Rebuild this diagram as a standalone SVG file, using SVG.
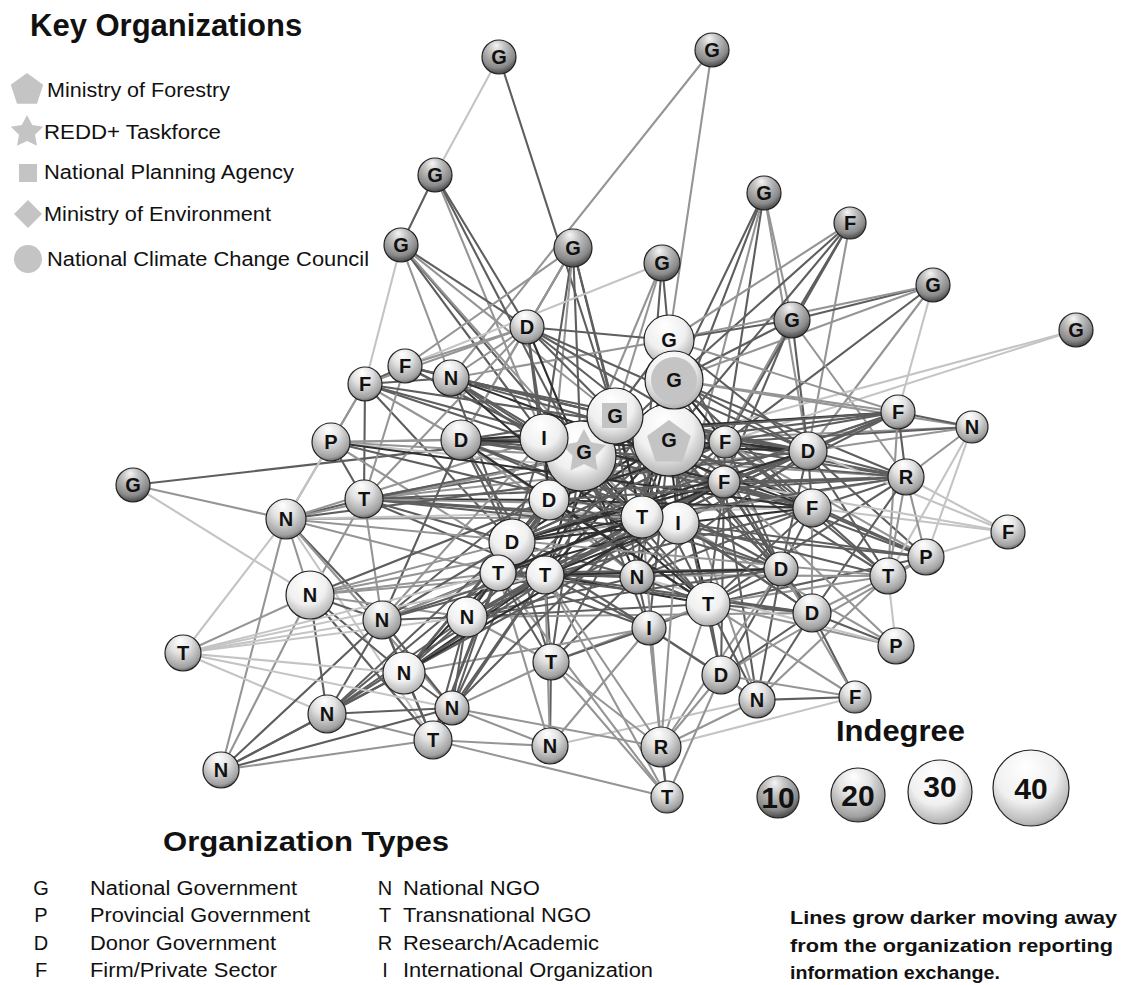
<svg xmlns="http://www.w3.org/2000/svg" width="1125" height="985" viewBox="0 0 1125 985">
<style>
text{font-family:"Liberation Sans",Arial,sans-serif;fill:#111}
.t1{font-size:31px;font-weight:bold}
.t2{font-size:28px;font-weight:bold}
.lg{font-size:20px}
.nb{font-size:19px;font-weight:bold}
.node text{font-size:20px;font-weight:bold;text-anchor:middle}
.node circle{stroke:#222;stroke-width:1.2}
.bd{fill:url(#gd)}.bm{fill:url(#gm)}.bw{fill:url(#gw)}
.key{fill:#c4c4c4}
#edges path{fill:none;stroke-width:2.1;stroke-linecap:round}
#edges .a{stroke:#c4c4c4}#edges .b{stroke:#959595}#edges .c{stroke:#5e5e5e}#edges .d{stroke:#303030}
.ind text{font-size:30px;font-weight:bold;text-anchor:middle}
.ind circle{stroke:#222;stroke-width:1.2}
</style>
<defs>
<radialGradient id="gd" cx="0.45" cy="0.32" r="0.72" fx="0.42" fy="0.15"><stop offset="0" stop-color="#f6f6f6"/><stop offset="0.3" stop-color="#c6c6c6"/><stop offset="0.75" stop-color="#8a8a8a"/><stop offset="1" stop-color="#383838"/></radialGradient>
<radialGradient id="gm" cx="0.45" cy="0.35" r="0.72" fx="0.42" fy="0.15"><stop offset="0" stop-color="#ffffff"/><stop offset="0.4" stop-color="#e2e2e2"/><stop offset="0.82" stop-color="#a0a0a0"/><stop offset="1" stop-color="#404040"/></radialGradient>
<radialGradient id="gw" cx="0.45" cy="0.38" r="0.72" fx="0.42" fy="0.2"><stop offset="0" stop-color="#ffffff"/><stop offset="0.55" stop-color="#f0f0f0"/><stop offset="0.86" stop-color="#b6b6b6"/><stop offset="1" stop-color="#505050"/></radialGradient>
</defs>
<rect width="1125" height="985" fill="#fff"/>

<g id="key-organizations">
<text class="t1" x="30" y="36">Key Organizations</text>
<polygon class="key" points="27,73 43.2,84.7 37,103.8 17,103.8 10.8,84.7"/>
<text class="lg" x="47" y="97" textLength="183" lengthAdjust="spacingAndGlyphs">Ministry of Forestry</text>
<polygon class="key" points="27,115 32.2,125 43.2,126.7 35,134.8 37,145.8 27,141 17,145.8 19,134.8 10.8,126.7 21.8,125"/>
<text class="lg" x="44" y="139" textLength="177" lengthAdjust="spacingAndGlyphs">REDD+ Taskforce</text>
<rect class="key" x="19" y="164" width="18" height="18"/>
<text class="lg" x="44" y="179" textLength="250" lengthAdjust="spacingAndGlyphs">National Planning Agency</text>
<polygon class="key" points="28,200 42,214 28,228 14,214"/>
<text class="lg" x="44" y="221" textLength="227" lengthAdjust="spacingAndGlyphs">Ministry of Environment</text>
<circle class="key" cx="28" cy="259" r="14"/>
<text class="lg" x="47" y="266" textLength="322" lengthAdjust="spacingAndGlyphs">National Climate Change Council</text>
</g>

<g id="edges">
<path class="a" d="M499 57L435 175"/><path class="c" d="M499 57L615 416"/><path class="b" d="M712 50L451 378"/><path class="b" d="M712 50L669 340"/>
<path class="c" d="M435 175L401 245"/><path class="c" d="M435 175L527 327"/><path class="c" d="M435 175L581 456"/><path class="b" d="M435 175L544 438"/>
<path class="c" d="M401 245L527 327"/><path class="b" d="M401 245L615 416"/><path class="c" d="M401 245L581 456"/><path class="a" d="M401 245L365 384"/><path class="c" d="M401 245L544 438"/><path class="b" d="M401 245L451 378"/><path class="b" d="M401 245L642 517"/>
<path class="c" d="M573 248L527 327"/><path class="c" d="M573 248L581 456"/><path class="c" d="M573 248L544 438"/><path class="c" d="M573 248L615 416"/><path class="b" d="M573 248L405 366"/><path class="b" d="M573 248L461 440"/><path class="c" d="M573 248L642 517"/><path class="b" d="M573 248L549 500"/>
<path class="c" d="M662 263L669 340"/><path class="b" d="M662 263L581 456"/><path class="a" d="M662 263L405 366"/><path class="b" d="M662 263L615 416"/><path class="c" d="M662 263L642 517"/>
<path class="c" d="M764 193L674 380"/><path class="c" d="M764 193L725 442"/><path class="b" d="M764 193L792 320"/><path class="c" d="M764 193L669 440"/><path class="b" d="M764 193L808 451"/><path class="b" d="M764 193L678 523"/>
<path class="b" d="M850 223L669 340"/><path class="c" d="M850 223L674 380"/><path class="c" d="M850 223L792 320"/><path class="c" d="M850 223L725 442"/><path class="c" d="M850 223L669 440"/><path class="b" d="M850 223L808 451"/>
<path class="c" d="M933 285L792 320"/><path class="b" d="M933 285L669 340"/><path class="c" d="M933 285L725 442"/><path class="b" d="M933 285L674 380"/><path class="b" d="M933 285L808 451"/><path class="a" d="M933 285L898 412"/>
<path class="c" d="M792 320L669 340"/><path class="c" d="M792 320L674 380"/><path class="c" d="M792 320L725 442"/><path class="c" d="M792 320L808 451"/><path class="b" d="M792 320L678 523"/><path class="b" d="M792 320L906 477"/><path class="c" d="M792 320L724 482"/>
<path class="a" d="M1076 330L669 440"/><path class="a" d="M1076 330L725 442"/>
<path class="c" d="M133 485L544 438"/><path class="b" d="M133 485L286 519"/><path class="a" d="M133 485L310 595"/>
<path class="c" d="M365 384L405 366"/><path class="c" d="M365 384L451 378"/><path class="b" d="M365 384L331 442"/><path class="c" d="M365 384L364 499"/><path class="b" d="M365 384L461 440"/><path class="b" d="M365 384L286 519"/><path class="c" d="M365 384L581 456"/><path class="c" d="M365 384L512 542"/>
<path class="c" d="M405 366L451 378"/><path class="c" d="M405 366L581 456"/><path class="c" d="M405 366L544 438"/><path class="b" d="M405 366L527 327"/><path class="b" d="M405 366L364 499"/><path class="c" d="M405 366L615 416"/>
<path class="c" d="M451 378L581 456"/><path class="c" d="M451 378L544 438"/><path class="c" d="M451 378L615 416"/><path class="c" d="M451 378L512 542"/><path class="b" d="M451 378L669 340"/><path class="c" d="M451 378L669 440"/><path class="c" d="M451 378L808 451"/>
<path class="d" d="M527 327L581 456"/><path class="c" d="M527 327L669 340"/><path class="c" d="M527 327L615 416"/><path class="c" d="M527 327L544 438"/><path class="c" d="M527 327L725 442"/><path class="b" d="M527 327L461 440"/><path class="b" d="M527 327L451 378"/><path class="c" d="M527 327L669 440"/><path class="c" d="M527 327L549 500"/><path class="b" d="M527 327L365 384"/><path class="b" d="M527 327L364 499"/>
<path class="b" d="M331 442L461 440"/><path class="c" d="M331 442L364 499"/><path class="b" d="M331 442L544 438"/><path class="a" d="M331 442L286 519"/><path class="b" d="M331 442L581 456"/><path class="b" d="M331 442L545 575"/><path class="a" d="M331 442L724 482"/>
<path class="c" d="M364 499L286 519"/><path class="c" d="M364 499L581 456"/><path class="d" d="M364 499L549 500"/><path class="c" d="M364 499L512 542"/><path class="c" d="M364 499L545 575"/><path class="c" d="M364 499L678 523"/><path class="c" d="M364 499L669 440"/><path class="c" d="M364 499L642 517"/><path class="b" d="M364 499L808 451"/><path class="b" d="M364 499L812 508"/><path class="b" d="M364 499L310 595"/><path class="b" d="M364 499L382 620"/><path class="c" d="M364 499L725 442"/>
<path class="c" d="M286 519L382 620"/><path class="b" d="M286 519L581 456"/><path class="b" d="M286 519L642 517"/><path class="b" d="M286 519L310 595"/><path class="b" d="M286 519L544 438"/><path class="b" d="M286 519L498 573"/><path class="b" d="M286 519L221 770"/><path class="a" d="M286 519L812 508"/><path class="b" d="M286 519L452 708"/><path class="a" d="M286 519L433 740"/>
<path class="c" d="M461 440L581 456"/><path class="c" d="M461 440L615 416"/><path class="c" d="M461 440L669 440"/><path class="c" d="M461 440L549 500"/><path class="c" d="M461 440L545 575"/><path class="c" d="M461 440L678 523"/><path class="c" d="M461 440L512 542"/><path class="c" d="M461 440L642 517"/><path class="c" d="M461 440L724 482"/><path class="b" d="M461 440L637 577"/><path class="c" d="M461 440L382 620"/>
<path class="d" d="M544 438L549 500"/><path class="c" d="M544 438L512 542"/><path class="c" d="M544 438L642 517"/><path class="c" d="M544 438L669 440"/><path class="c" d="M544 438L812 508"/><path class="b" d="M544 438L781 569"/>
<path class="d" d="M581 456L549 500"/><path class="d" d="M581 456L512 542"/><path class="d" d="M581 456L498 573"/><path class="d" d="M581 456L545 575"/><path class="d" d="M581 456L642 517"/><path class="d" d="M581 456L637 577"/><path class="c" d="M581 456L708 604"/><path class="c" d="M581 456L649 628"/><path class="c" d="M581 456L781 569"/><path class="c" d="M581 456L812 613"/><path class="c" d="M581 456L467 617"/><path class="c" d="M581 456L382 620"/><path class="c" d="M581 456L551 662"/><path class="c" d="M581 456L812 508"/><path class="b" d="M581 456L906 477"/>
<path class="d" d="M669 440L549 500"/><path class="d" d="M669 440L512 542"/><path class="d" d="M669 440L545 575"/><path class="d" d="M669 440L642 517"/><path class="d" d="M669 440L678 523"/><path class="d" d="M669 440L637 577"/><path class="d" d="M669 440L708 604"/><path class="d" d="M669 440L808 451"/><path class="d" d="M669 440L812 508"/><path class="c" d="M669 440L781 569"/><path class="c" d="M669 440L812 613"/><path class="c" d="M669 440L888 576"/><path class="c" d="M669 440L906 477"/><path class="c" d="M669 440L898 412"/><path class="b" d="M669 440L972 427"/><path class="c" d="M669 440L926 557"/><path class="c" d="M669 440L649 628"/><path class="c" d="M669 440L467 617"/><path class="b" d="M669 440L757 700"/><path class="c" d="M669 440L721 675"/><path class="c" d="M669 440L551 662"/>
<path class="d" d="M615 416L549 500"/><path class="c" d="M615 416L512 542"/><path class="d" d="M615 416L545 575"/><path class="d" d="M615 416L642 517"/><path class="c" d="M615 416L678 523"/><path class="c" d="M615 416L724 482"/><path class="c" d="M615 416L808 451"/><path class="c" d="M615 416L637 577"/><path class="c" d="M615 416L708 604"/><path class="c" d="M615 416L781 569"/><path class="b" d="M615 416L467 617"/><path class="c" d="M615 416L498 573"/>
<path class="d" d="M674 380L725 442"/><path class="c" d="M674 380L808 451"/><path class="d" d="M674 380L642 517"/><path class="c" d="M674 380L678 523"/><path class="c" d="M674 380L812 508"/><path class="c" d="M674 380L906 477"/><path class="b" d="M674 380L898 412"/><path class="c" d="M674 380L549 500"/><path class="c" d="M674 380L545 575"/><path class="b" d="M674 380L972 427"/><path class="c" d="M674 380L781 569"/>
<path class="c" d="M669 340L725 442"/><path class="c" d="M669 340L808 451"/><path class="b" d="M669 340L898 412"/><path class="c" d="M669 340L642 517"/><path class="c" d="M669 340L549 500"/>
<path class="d" d="M725 442L808 451"/><path class="c" d="M725 442L724 482"/><path class="c" d="M725 442L898 412"/><path class="c" d="M725 442L906 477"/><path class="c" d="M725 442L972 427"/><path class="c" d="M725 442L812 508"/><path class="b" d="M725 442L926 557"/><path class="c" d="M725 442L888 576"/><path class="c" d="M725 442L781 569"/><path class="c" d="M725 442L642 517"/><path class="c" d="M725 442L512 542"/>
<path class="c" d="M724 482L808 451"/><path class="c" d="M724 482L812 508"/><path class="d" d="M724 482L781 569"/><path class="c" d="M724 482L708 604"/><path class="c" d="M724 482L906 477"/><path class="c" d="M724 482L926 557"/><path class="d" d="M724 482L642 517"/><path class="c" d="M724 482L545 575"/><path class="c" d="M724 482L812 613"/><path class="c" d="M724 482L721 675"/><path class="c" d="M724 482L757 700"/><path class="c" d="M724 482L512 542"/>
<path class="c" d="M808 451L898 412"/><path class="c" d="M808 451L906 477"/><path class="b" d="M808 451L972 427"/><path class="c" d="M808 451L812 508"/><path class="c" d="M808 451L926 557"/><path class="c" d="M808 451L888 576"/><path class="c" d="M808 451L781 569"/><path class="c" d="M808 451L642 517"/><path class="c" d="M808 451L545 575"/>
<path class="c" d="M812 508L906 477"/><path class="a" d="M812 508L1008 532"/><path class="c" d="M812 508L926 557"/><path class="c" d="M812 508L888 576"/><path class="c" d="M812 508L781 569"/><path class="b" d="M812 508L812 613"/><path class="c" d="M812 508L708 604"/><path class="c" d="M812 508L545 575"/><path class="c" d="M812 508L637 577"/>
<path class="c" d="M898 412L972 427"/><path class="c" d="M898 412L906 477"/><path class="b" d="M898 412L888 576"/><path class="c" d="M898 412L678 523"/><path class="c" d="M898 412L642 517"/><path class="b" d="M898 412L512 542"/>
<path class="b" d="M972 427L906 477"/><path class="a" d="M972 427L926 557"/><path class="a" d="M972 427L888 576"/>
<path class="b" d="M906 477L888 576"/><path class="b" d="M906 477L926 557"/><path class="c" d="M906 477L812 613"/><path class="a" d="M906 477L1008 532"/><path class="c" d="M906 477L708 604"/><path class="b" d="M906 477L512 542"/>
<path class="a" d="M1008 532L926 557"/><path class="a" d="M1008 532L808 451"/><path class="a" d="M1008 532L724 482"/>
<path class="b" d="M926 557L888 576"/><path class="c" d="M926 557L708 604"/><path class="b" d="M926 557L721 675"/>
<path class="a" d="M888 576L896 646"/><path class="b" d="M888 576L812 613"/><path class="b" d="M888 576L757 700"/><path class="b" d="M888 576L708 604"/><path class="b" d="M888 576L545 575"/>
<path class="c" d="M781 569L708 604"/><path class="c" d="M781 569L812 613"/><path class="c" d="M781 569L637 577"/><path class="c" d="M781 569L545 575"/><path class="c" d="M781 569L721 675"/><path class="c" d="M781 569L757 700"/><path class="b" d="M781 569L661 747"/>
<path class="c" d="M812 613L708 604"/><path class="c" d="M812 613L896 646"/><path class="c" d="M812 613L855 697"/><path class="c" d="M812 613L757 700"/><path class="c" d="M812 613L721 675"/><path class="c" d="M812 613L545 575"/><path class="b" d="M812 613L467 617"/>
<path class="b" d="M896 646L708 604"/><path class="b" d="M896 646L678 523"/><path class="a" d="M896 646L637 577"/><path class="b" d="M896 646L724 482"/>
<path class="c" d="M708 604L721 675"/><path class="c" d="M708 604L757 700"/><path class="c" d="M708 604L649 628"/><path class="c" d="M708 604L637 577"/><path class="d" d="M708 604L545 575"/><path class="b" d="M708 604L661 747"/><path class="b" d="M708 604L551 662"/><path class="c" d="M708 604L467 617"/>
<path class="c" d="M855 697L757 700"/><path class="b" d="M855 697L721 675"/><path class="a" d="M855 697L661 747"/><path class="b" d="M855 697L781 569"/><path class="b" d="M855 697L708 604"/>
<path class="c" d="M757 700L721 675"/><path class="b" d="M757 700L649 628"/><path class="b" d="M757 700L661 747"/><path class="a" d="M757 700L550 746"/>
<path class="c" d="M721 675L649 628"/><path class="b" d="M721 675L661 747"/><path class="b" d="M721 675L667 797"/>
<path class="d" d="M637 577L545 575"/><path class="c" d="M637 577L649 628"/><path class="c" d="M637 577L642 517"/><path class="c" d="M637 577L678 523"/><path class="c" d="M637 577L512 542"/><path class="c" d="M637 577L498 573"/><path class="c" d="M637 577L551 662"/><path class="c" d="M637 577L467 617"/><path class="c" d="M637 577L549 500"/>
<path class="c" d="M649 628L545 575"/><path class="c" d="M649 628L551 662"/><path class="b" d="M649 628L661 747"/><path class="b" d="M649 628L667 797"/><path class="b" d="M649 628L550 746"/><path class="c" d="M649 628L512 542"/><path class="c" d="M649 628L498 573"/><path class="b" d="M649 628L404 673"/>
<path class="c" d="M551 662L545 575"/><path class="c" d="M551 662L498 573"/><path class="c" d="M551 662L550 746"/><path class="b" d="M551 662L452 708"/><path class="b" d="M551 662L467 617"/><path class="b" d="M551 662L661 747"/><path class="b" d="M551 662L667 797"/><path class="c" d="M551 662L512 542"/>
<path class="b" d="M550 746L545 575"/><path class="b" d="M550 746L498 573"/>
<path class="c" d="M661 747L667 797"/><path class="b" d="M661 747L545 575"/><path class="b" d="M661 747L678 523"/><path class="b" d="M661 747L642 517"/>
<path class="b" d="M667 797L433 740"/><path class="b" d="M667 797L545 575"/><path class="b" d="M667 797L498 573"/>
<path class="c" d="M310 595L382 620"/><path class="c" d="M310 595L404 673"/><path class="c" d="M310 595L327 714"/><path class="c" d="M310 595L433 740"/><path class="b" d="M310 595L512 542"/><path class="b" d="M310 595L498 573"/><path class="b" d="M310 595L545 575"/><path class="b" d="M310 595L467 617"/><path class="b" d="M310 595L678 523"/><path class="c" d="M310 595L549 500"/>
<path class="c" d="M382 620L467 617"/><path class="c" d="M382 620L404 673"/><path class="c" d="M382 620L452 708"/><path class="c" d="M382 620L433 740"/><path class="c" d="M382 620L327 714"/><path class="c" d="M382 620L498 573"/><path class="c" d="M382 620L545 575"/><path class="c" d="M382 620L512 542"/><path class="b" d="M382 620L544 438"/><path class="b" d="M382 620L642 517"/>
<path class="d" d="M467 617L498 573"/><path class="c" d="M467 617L545 575"/><path class="c" d="M467 617L404 673"/><path class="c" d="M467 617L452 708"/><path class="c" d="M467 617L327 714"/><path class="c" d="M467 617L433 740"/><path class="c" d="M467 617L512 542"/><path class="c" d="M467 617L678 523"/><path class="c" d="M467 617L642 517"/>
<path class="c" d="M404 673L452 708"/><path class="c" d="M404 673L327 714"/><path class="c" d="M404 673L433 740"/><path class="c" d="M404 673L221 770"/><path class="d" d="M404 673L498 573"/><path class="d" d="M404 673L545 575"/><path class="c" d="M404 673L512 542"/><path class="c" d="M404 673L642 517"/><path class="c" d="M404 673L549 500"/><path class="c" d="M404 673L678 523"/>
<path class="c" d="M452 708L433 740"/><path class="c" d="M452 708L327 714"/><path class="c" d="M452 708L498 573"/><path class="c" d="M452 708L545 575"/><path class="c" d="M452 708L642 517"/><path class="c" d="M452 708L549 500"/><path class="b" d="M452 708L550 746"/><path class="b" d="M452 708L661 747"/>
<path class="c" d="M327 714L221 770"/><path class="b" d="M327 714L433 740"/><path class="c" d="M327 714L498 573"/><path class="c" d="M327 714L545 575"/><path class="c" d="M327 714L512 542"/><path class="a" d="M327 714L183 653"/>
<path class="b" d="M221 770L433 740"/><path class="b" d="M221 770L310 595"/><path class="c" d="M221 770L452 708"/><path class="c" d="M221 770L382 620"/>
<path class="b" d="M183 653L310 595"/><path class="a" d="M183 653L382 620"/><path class="a" d="M183 653L467 617"/><path class="a" d="M183 653L404 673"/><path class="a" d="M183 653L286 519"/><path class="a" d="M183 653L498 573"/><path class="a" d="M183 653L452 708"/><path class="a" d="M183 653L545 575"/>
<path class="c" d="M433 740L498 573"/><path class="c" d="M433 740L545 575"/><path class="b" d="M433 740L550 746"/><path class="c" d="M433 740L512 542"/>
<path class="d" d="M331 442L812 508"/><path class="c" d="M364 499L906 477"/><path class="c" d="M286 519L808 451"/><path class="d" d="M461 440L898 412"/><path class="c" d="M461 440L906 477"/><path class="d" d="M451 378L812 508"/><path class="c" d="M365 384L724 482"/><path class="d" d="M451 378L708 604"/><path class="d" d="M461 440L708 604"/><path class="d" d="M512 542L808 451"/><path class="d" d="M512 542L812 508"/><path class="d" d="M498 573L724 482"/><path class="c" d="M545 575L808 451"/><path class="d" d="M498 573L678 523"/><path class="d" d="M549 500L708 604"/><path class="c" d="M549 500L781 569"/><path class="d" d="M549 500L812 508"/><path class="d" d="M549 500L725 442"/><path class="c" d="M364 499L926 557"/><path class="b" d="M286 519L888 576"/><path class="d" d="M512 542L642 517"/><path class="d" d="M498 573L642 517"/><path class="c" d="M512 542L725 442"/><path class="d" d="M545 575L678 523"/><path class="c" d="M527 327L808 451"/><path class="c" d="M405 366L725 442"/><path class="c" d="M365 384L808 451"/><path class="d" d="M544 438L724 482"/><path class="c" d="M544 438L708 604"/><path class="c" d="M544 438L898 412"/><path class="d" d="M512 542L724 482"/><path class="c" d="M498 573L781 569"/><path class="c" d="M498 573L812 613"/><path class="d" d="M545 575L781 569"/><path class="c" d="M467 617L781 569"/><path class="c" d="M467 617L724 482"/><path class="d" d="M404 673L724 482"/><path class="c" d="M382 620L678 523"/><path class="c" d="M331 442L642 517"/><path class="c" d="M451 378L642 517"/><path class="d" d="M461 440L808 451"/><path class="c" d="M549 500L906 477"/><path class="c" d="M512 542L898 412"/><path class="c" d="M637 577L808 451"/><path class="c" d="M642 517L906 477"/><path class="c" d="M678 523L926 557"/><path class="c" d="M678 523L888 576"/><path class="c" d="M642 517L781 569"/><path class="c" d="M678 523L812 613"/>
</g>

<g id="nodes">
<g id="n-g1" class="node"><circle class="bd" cx="499" cy="57" r="17"/><text x="499" y="64">G</text></g>
<g id="n-g2" class="node"><circle class="bd" cx="712" cy="50" r="17"/><text x="712" y="57">G</text></g>
<g id="n-g3" class="node"><circle class="bd" cx="435" cy="175" r="17"/><text x="435" y="182">G</text></g>
<g id="n-g4" class="node"><circle class="bd" cx="401" cy="245" r="17"/><text x="401" y="252">G</text></g>
<g id="n-g5" class="node"><circle class="bd" cx="573" cy="248" r="19"/><text x="573" y="255">G</text></g>
<g id="n-g6" class="node"><circle class="bd" cx="662" cy="263" r="18"/><text x="662" y="270">G</text></g>
<g id="n-g7" class="node"><circle class="bd" cx="764" cy="193" r="17"/><text x="764" y="200">G</text></g>
<g id="n-f1" class="node"><circle class="bd" cx="850" cy="223" r="16"/><text x="850" y="230">F</text></g>
<g id="n-g8" class="node"><circle class="bd" cx="933" cy="285" r="17"/><text x="933" y="292">G</text></g>
<g id="n-g9" class="node"><circle class="bd" cx="792" cy="320" r="18"/><text x="792" y="327">G</text></g>
<g id="n-g10" class="node"><circle class="bd" cx="1076" cy="330" r="17"/><text x="1076" y="337">G</text></g>
<g id="n-g11" class="node"><circle class="bd" cx="133" cy="485" r="17"/><text x="133" y="492">G</text></g>
<g id="n-d1" class="node"><circle class="bm" cx="527" cy="327" r="17"/><text x="527" y="334">D</text></g>
<g id="n-f2" class="node"><circle class="bm" cx="365" cy="384" r="17"/><text x="365" y="391">F</text></g>
<g id="n-f3" class="node"><circle class="bm" cx="405" cy="366" r="17"/><text x="405" y="373">F</text></g>
<g id="n-n1" class="node"><circle class="bm" cx="451" cy="378" r="18"/><text x="451" y="385">N</text></g>
<g id="n-p1" class="node"><circle class="bm" cx="331" cy="442" r="19"/><text x="331" y="449">P</text></g>
<g id="n-d2" class="node"><circle class="bm" cx="461" cy="440" r="20"/><text x="461" y="447">D</text></g>
<g id="n-t1" class="node"><circle class="bm" cx="364" cy="499" r="19"/><text x="364" y="506">T</text></g>
<g id="n-n2" class="node"><circle class="bm" cx="286" cy="519" r="20"/><text x="286" y="526">N</text></g>
<g id="n-d3" class="node"><circle class="bw" cx="549" cy="500" r="20"/><text x="549" y="507">D</text></g>
<g id="n-d4" class="node"><circle class="bw" cx="512" cy="542" r="23"/><text x="512" y="549">D</text></g>
<g id="n-t2" class="node"><circle class="bw" cx="498" cy="573" r="18"/><text x="498" y="580">T</text></g>
<g id="n-t3" class="node"><circle class="bw" cx="545" cy="575" r="19"/><text x="545" y="582">T</text></g>
<g id="n-i2" class="node"><circle class="bw" cx="678" cy="523" r="21"/><text x="678" y="530">I</text></g>
<g id="n-t4" class="node"><circle class="bw" cx="642" cy="517" r="21"/><text x="642" y="524">T</text></g>
<g id="n-f4" class="node"><circle class="bm" cx="725" cy="442" r="16"/><text x="725" y="449">F</text></g>
<g id="n-f5" class="node"><circle class="bm" cx="724" cy="482" r="16"/><text x="724" y="489">F</text></g>
<g id="n-d5" class="node"><circle class="bm" cx="808" cy="451" r="19"/><text x="808" y="458">D</text></g>
<g id="n-f6" class="node"><circle class="bm" cx="812" cy="508" r="19"/><text x="812" y="515">F</text></g>
<g id="n-f7" class="node"><circle class="bm" cx="898" cy="412" r="17"/><text x="898" y="419">F</text></g>
<g id="n-n3" class="node"><circle class="bm" cx="972" cy="427" r="16"/><text x="972" y="434">N</text></g>
<g id="n-r1" class="node"><circle class="bm" cx="906" cy="477" r="18"/><text x="906" y="484">R</text></g>
<g id="n-f8" class="node"><circle class="bm" cx="1008" cy="532" r="17"/><text x="1008" y="539">F</text></g>
<g id="n-p2" class="node"><circle class="bm" cx="926" cy="557" r="18"/><text x="926" y="564">P</text></g>
<g id="n-t5" class="node"><circle class="bm" cx="888" cy="576" r="18"/><text x="888" y="583">T</text></g>
<g id="n-d6" class="node"><circle class="bm" cx="781" cy="569" r="17"/><text x="781" y="576">D</text></g>
<g id="n-d7" class="node"><circle class="bm" cx="812" cy="613" r="19"/><text x="812" y="620">D</text></g>
<g id="n-p3" class="node"><circle class="bm" cx="896" cy="646" r="18"/><text x="896" y="653">P</text></g>
<g id="n-t6" class="node"><circle class="bw" cx="708" cy="604" r="22"/><text x="708" y="611">T</text></g>
<g id="n-n4" class="node"><circle class="bm" cx="637" cy="577" r="17"/><text x="637" y="584">N</text></g>
<g id="n-i3" class="node"><circle class="bm" cx="649" cy="628" r="17"/><text x="649" y="635">I</text></g>
<g id="n-t7" class="node"><circle class="bm" cx="551" cy="662" r="18"/><text x="551" y="669">T</text></g>
<g id="n-d8" class="node"><circle class="bm" cx="721" cy="675" r="19"/><text x="721" y="682">D</text></g>
<g id="n-n5" class="node"><circle class="bm" cx="757" cy="700" r="18"/><text x="757" y="707">N</text></g>
<g id="n-f9" class="node"><circle class="bm" cx="855" cy="697" r="16"/><text x="855" y="704">F</text></g>
<g id="n-n6" class="node"><circle class="bw" cx="310" cy="595" r="24"/><text x="310" y="602">N</text></g>
<g id="n-n7" class="node"><circle class="bm" cx="382" cy="620" r="19"/><text x="382" y="627">N</text></g>
<g id="n-n8" class="node"><circle class="bw" cx="467" cy="617" r="20"/><text x="467" y="624">N</text></g>
<g id="n-n9" class="node"><circle class="bw" cx="404" cy="673" r="21"/><text x="404" y="680">N</text></g>
<g id="n-t8" class="node"><circle class="bm" cx="433" cy="740" r="19"/><text x="433" y="747">T</text></g>
<g id="n-n10" class="node"><circle class="bm" cx="452" cy="708" r="17"/><text x="452" y="715">N</text></g>
<g id="n-n11" class="node"><circle class="bm" cx="327" cy="714" r="19"/><text x="327" y="721">N</text></g>
<g id="n-n12" class="node"><circle class="bm" cx="221" cy="770" r="18"/><text x="221" y="777">N</text></g>
<g id="n-t9" class="node"><circle class="bm" cx="183" cy="653" r="18"/><text x="183" y="660">T</text></g>
<g id="n-n13" class="node"><circle class="bm" cx="550" cy="746" r="18"/><text x="550" y="753">N</text></g>
<g id="n-r2" class="node"><circle class="bm" cx="661" cy="747" r="20"/><text x="661" y="754">R</text></g>
<g id="n-t10" class="node"><circle class="bm" cx="667" cy="797" r="16"/><text x="667" y="804">T</text></g>
<g id="n-gP" class="node"><circle class="bw" cx="669" cy="440" r="36"/><polygon class="key" points="669,420 690.9,435.9 682.5,461.6 655.5,461.6 647.1,435.9"/><text x="669" y="447">G</text></g>
<g id="n-gA" class="node"><circle class="bw" cx="669" cy="340" r="25"/><text x="669" y="347">G</text></g>
<g id="n-gB" class="node"><circle class="bw" cx="674" cy="380" r="29"/><circle class="key" cx="674" cy="380" r="23" style="stroke:none"/><text x="674" y="387">G</text></g>
<g id="n-gS" class="node"><circle class="bw" cx="581" cy="456" r="35"/><polygon class="key" points="584,429 591,442.3 605.9,444.9 595.4,455.7 597.5,470.6 584,464 570.5,470.6 572.6,455.7 562.1,444.9 577,442.3"/><text x="584" y="459">G</text></g>
<g id="n-gC" class="node"><circle class="bw" cx="615" cy="416" r="28"/><rect class="key" x="602" y="403" width="25" height="25"/><text x="615" y="423">G</text></g>
<g id="n-i1" class="node"><circle class="bw" cx="544" cy="438" r="24"/><text x="544" y="445">I</text></g>
</g>

<g id="indegree-legend" class="ind">
<text class="t2" x="836" y="741" textLength="129" lengthAdjust="spacingAndGlyphs" style="text-anchor:start">Indegree</text>
<circle class="bd" cx="778" cy="797" r="21"/><text x="778" y="808">10</text>
<circle class="bm" cx="858" cy="795" r="27"/><text x="858" y="806">20</text>
<circle class="bw" cx="940" cy="792" r="32"/><text x="940" y="797">30</text>
<circle class="bw" cx="1031" cy="788" r="38"/><text x="1031" y="799">40</text>
</g>

<g id="organization-types">
<text class="t2" x="163" y="851" textLength="286" lengthAdjust="spacingAndGlyphs">Organization Types</text>
<g class="lg">
<text x="41" y="895" style="text-anchor:middle">G</text><text x="90" y="895" textLength="207" lengthAdjust="spacingAndGlyphs">National Government</text>
<text x="41" y="922" style="text-anchor:middle">P</text><text x="90" y="922" textLength="220" lengthAdjust="spacingAndGlyphs">Provincial Government</text>
<text x="41" y="950" style="text-anchor:middle">D</text><text x="90" y="950" textLength="186" lengthAdjust="spacingAndGlyphs">Donor Government</text>
<text x="41" y="977" style="text-anchor:middle">F</text><text x="90" y="977" textLength="187" lengthAdjust="spacingAndGlyphs">Firm/Private Sector</text>
<text x="385" y="895" style="text-anchor:middle">N</text><text x="403" y="895" textLength="137" lengthAdjust="spacingAndGlyphs">National NGO</text>
<text x="385" y="922" style="text-anchor:middle">T</text><text x="403" y="922" textLength="188" lengthAdjust="spacingAndGlyphs">Transnational NGO</text>
<text x="385" y="950" style="text-anchor:middle">R</text><text x="403" y="950" textLength="196" lengthAdjust="spacingAndGlyphs">Research/Academic</text>
<text x="385" y="977" style="text-anchor:middle">I</text><text x="403" y="977" textLength="250" lengthAdjust="spacingAndGlyphs">International Organization</text>
</g>
</g>

<g id="note">
<text class="nb" x="790" y="924" textLength="327" lengthAdjust="spacingAndGlyphs">Lines grow darker moving away</text>
<text class="nb" x="790" y="952" textLength="323" lengthAdjust="spacingAndGlyphs">from the organization reporting</text>
<text class="nb" x="790" y="979" textLength="210" lengthAdjust="spacingAndGlyphs">information exchange.</text>
</g>
</svg>
